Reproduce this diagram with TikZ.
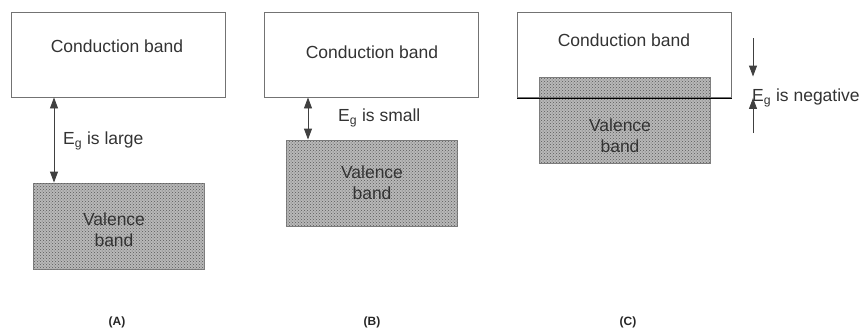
\documentclass[tikz,border=0pt]{standalone}
\usepackage{fontspec}
\setmainfont{Liberation Sans}
\usetikzlibrary{positioning,arrows.meta,patterns}

\begin{document}
\begin{tikzpicture}[
    x=1pt, y=-1pt,
    font=\fontsize{17.5}{21}\selectfont,
    >={Triangle[length=11pt,width=8pt]},
    conduction/.style={rectangle,draw=black!55,line width=0.9pt,minimum width=214pt,minimum height=85pt,inner sep=0pt},
    valence/.style={rectangle,draw=black!50,line width=0.9pt,fill=black!28,minimum width=171pt,minimum height=86pt,inner sep=0pt,
        postaction={pattern=crosshatch dots,pattern color=black!65}},
    bandtext/.style={text=black!80,inner sep=0pt},
    gap/.style={line width=0.9pt,draw=black!75,<->},
    halfgap/.style={line width=0.9pt,draw=black!75,->},
    gaplabel/.style={anchor=west,text=black!80,inner sep=0pt},
    caption/.style={font=\fontsize{12}{14}\selectfont\bfseries,text=black!85}
]
\useasboundingbox (0,0) rectangle (866,332);

% (A) large gap
\node[conduction] (cbA) at (118,54.5) {};
\node[bandtext] (ctA) at (117,46) {Conduction band};
\node[valence] (vbA) at (118.5,226) {};
\node[bandtext,align=center] (vtA) at (114,230) {Valence\\band};
\coordinate (xA) at (54,0);
\draw[gap] (cbA.south -| xA) -- (vbA.north -| xA);
\node[gaplabel] (gA) at (63,141) {E\textsubscript{g} is large};
\node[caption] (capA) at (117,322) {(A)};

% (B) small gap
\node[conduction] (cbB) at (371.5,54.5) {};
\node[bandtext] (ctB) at (372,52) {Conduction band};
\node[valence] (vbB) at (372,183) {};
\node[bandtext,align=center] (vtB) at (372,183) {Valence\\band};
\coordinate (xB) at (308,0);
\draw[gap] (cbB.south -| xB) -- (vbB.north -| xB);
\node[gaplabel] (gB) at (338,118) {E\textsubscript{g} is small};
\node[caption] (capB) at (372,322) {(B)};

% (C) negative gap (overlap)
\node[valence] (vbC) at (624.5,120) {};
\node[conduction] (cbC) at (624.5,55) {};
\node[bandtext] (ctC) at (624,40) {Conduction band};
\draw[line width=0.9pt,black] (cbC.south west) -- (cbC.south east);
\node[bandtext,align=center] (vtC) at (620,136) {Valence\\band};
\coordinate (dC) at (753,38);
\coordinate (uC) at (753,133);
\draw[halfgap] (dC) -- (dC |- vbC.north);
\draw[halfgap] (uC) -- (uC |- cbC.south);
\node[gaplabel] (gC) at (752,98) {E\textsubscript{g} is negative};
\node[caption] (capC) at (628,322) {(C)};

\end{tikzpicture}
\end{document}
